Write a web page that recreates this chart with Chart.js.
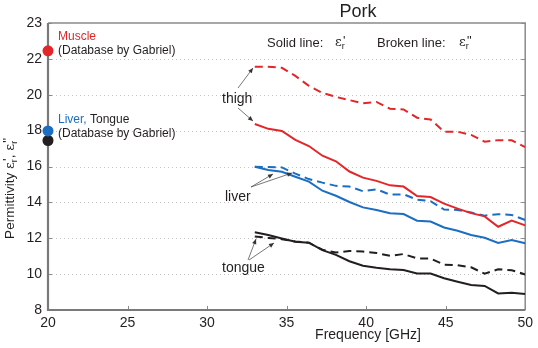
<!DOCTYPE html>
<html><head><meta charset="utf-8">
<script src="https://cdn.jsdelivr.net/npm/chart.js@4"></script>
<style>html,body{margin:0;padding:0;background:#fff}</style>
</head><body>
<canvas id="c" width="538" height="348" style="width:538px;height:348px;display:block"></canvas>
<script>
// ---- data ----
const freq = [33, 33.85, 34.7, 35.55, 36.4, 37.25, 38.1, 38.95, 39.8, 40.65, 41.5, 42.35, 43.2, 44.05, 44.9, 45.75, 46.6, 47.45, 48.3, 49.15, 50];
const thighReal  = [18.37, 18.1, 17.98, 17.48, 17.14, 16.6, 16.29, 15.72, 15.38, 15.2, 14.95, 14.88, 14.35, 14.3, 13.93, 13.65, 13.4, 13.22, 12.64, 12.98, 12.72];
const thighImag  = [21.56, 21.56, 21.5, 21.05, 20.5, 20.1, 19.88, 19.7, 19.52, 19.6, 19.22, 19.18, 18.72, 18.62, 17.94, 17.94, 17.76, 17.38, 17.47, 17.46, 17.08];
const liverReal  = [15.99, 15.8, 15.71, 15.43, 15.16, 14.65, 14.37, 14.02, 13.72, 13.57, 13.39, 13.35, 12.98, 12.93, 12.6, 12.42, 12.18, 12.03, 11.74, 11.9, 11.72];
const liverImag  = [15.99, 15.97, 15.95, 15.6, 15.3, 15.1, 14.92, 14.88, 14.62, 14.73, 14.43, 14.45, 14.15, 14.07, 13.6, 13.58, 13.43, 13.26, 13.34, 13.3, 13.02];
const tongueReal = [12.33, 12.18, 11.99, 11.81, 11.75, 11.34, 11.07, 10.72, 10.47, 10.36, 10.27, 10.23, 10.04, 10.03, 9.77, 9.58, 9.39, 9.34, 8.92, 8.96, 8.89];
const tongueImag = [12.1, 12.02, 11.95, 11.82, 11.75, 11.36, 11.2, 11.29, 11.26, 11.18, 11.02, 11.12, 10.88, 10.87, 10.52, 10.5, 10.38, 10.02, 10.27, 10.22, 9.98];
const dbFreq   = [20];
const muscleDb = [22.45];
const liverDb  = [17.98];
const tongueDb = [17.45];
const xTicks = [20, 25, 30, 35, 40, 45, 50];
const yTicks = [8, 10, 12, 14, 16, 18, 20, 22, 24];
const yTickLabels = ['8', '10', '12', '14', '16', '18', '20', '22', '23'];

const FONT = '"Liberation Sans", Arial, Helvetica, sans-serif';
const RED = '#e2262a', BLUE = '#1b6ec2', BLACK = '#231f20', TXT = '#231f20';

const pts = (xs, ys) => xs.map((x, i) => ({x: x, y: ys[i]}));
function line(ys, color, dashed) {
  return {data: pts(freq, ys), borderColor: color, borderWidth: 2, borderDash: dashed ? [8, 5] : [],
          pointRadius: 0, tension: 0, fill: false};
}
function dot(ys, color) {
  return {data: pts(dbFreq, ys), showLine: false, pointRadius: 5.5, pointBackgroundColor: color,
          pointBorderColor: color, pointBorderWidth: 0, clip: false};
}

function eps(ctx, x, y, size, primes) {
  ctx.textBaseline = 'middle'; ctx.textAlign = 'left';
  ctx.font = size + 'px "DejaVu Serif", serif';
  ctx.fillText('ε', x, y);
  let w = ctx.measureText('ε').width;
  ctx.font = Math.round(size * 0.7) + 'px ' + FONT;
  ctx.fillText('r', x + w, y + size * 0.3);
  let w2 = ctx.measureText('r').width;
  ctx.font = size + 'px ' + FONT;
  ctx.fillText(primes, x + w + w2 * 0.4, y - size * 0.15);
  return w + w2 * 0.4 + ctx.measureText(primes).width;
}

function arrow(ctx, x1, y1, x2, y2) {
  ctx.beginPath(); ctx.moveTo(x1, y1); ctx.lineTo(x2, y2); ctx.stroke();
  const a = Math.atan2(y2 - y1, x2 - x1), L = 5, H = 2.2;
  ctx.beginPath();
  ctx.moveTo(x2, y2);
  ctx.lineTo(x2 - L * Math.cos(a) + H * Math.sin(a), y2 - L * Math.sin(a) - H * Math.cos(a));
  ctx.lineTo(x2 - L * Math.cos(a) - H * Math.sin(a), y2 - L * Math.sin(a) + H * Math.cos(a));
  ctx.closePath(); ctx.fill();
}

const framePlugin = {
  id: 'frame',
  beforeDatasetsDraw(chart) {
    const ctx = chart.ctx, ca = chart.chartArea, ys = chart.scales.y, xs = chart.scales.x;
    ctx.save();
    ctx.strokeStyle = '#c4c4c4'; ctx.lineWidth = 1; ctx.setLineDash([1, 3]);
    yTicks.forEach(v => {
      if (v <= 8 || v >= 24) return;
      const p = Math.round(ys.getPixelForValue(v)) + 0.5;
      ctx.beginPath(); ctx.moveTo(ca.left, p); ctx.lineTo(ca.right, p); ctx.stroke();
    });
    ctx.setLineDash([]);
    ctx.strokeStyle = '#8a8a8a'; ctx.lineWidth = 1;
    yTicks.forEach(v => {
      const p = Math.round(ys.getPixelForValue(v)) + 0.5;
      ctx.beginPath(); ctx.moveTo(ca.left, p); ctx.lineTo(ca.left + 4, p); ctx.stroke();
      ctx.beginPath(); ctx.moveTo(ca.right, p); ctx.lineTo(ca.right - 4, p); ctx.stroke();
    });
    xTicks.forEach(v => {
      const p = Math.round(xs.getPixelForValue(v)) + 0.5;
      ctx.beginPath(); ctx.moveTo(p, ca.bottom); ctx.lineTo(p, ca.bottom - 4); ctx.stroke();
    });
    ctx.strokeStyle = '#8a8a8a'; ctx.lineWidth = 1.5;
    ctx.beginPath(); ctx.moveTo(ca.left, ca.top); ctx.lineTo(ca.right, ca.top); ctx.lineTo(ca.right, ca.bottom); ctx.stroke();
    ctx.strokeStyle = '#7a7a7a'; ctx.lineWidth = 2.2;
    ctx.beginPath(); ctx.moveTo(ca.left, ca.top); ctx.lineTo(ca.left, ca.bottom); ctx.lineTo(ca.right, ca.bottom); ctx.stroke();
    ctx.restore();
  },
  afterDraw(chart) {
    const ctx = chart.ctx;
    ctx.save();
    ctx.fillStyle = TXT; ctx.textBaseline = 'middle'; ctx.textAlign = 'center';
    ctx.font = '18px ' + FONT;
    ctx.fillText('Pork', 358, 12);
    ctx.font = '14px ' + FONT;
    ctx.fillText('Frequency [GHz]', 368, 335);
    ctx.textAlign = 'left';
    // database legend
    ctx.font = '12px ' + FONT;
    ctx.fillStyle = RED; ctx.fillText('Muscle', 58, 37);
    ctx.fillStyle = TXT; ctx.fillText('(Database by Gabriel)', 58, 51);
    ctx.fillStyle = BLUE; ctx.fillText('Liver,', 58, 120);
    let w = ctx.measureText('Liver,').width;
    ctx.fillStyle = TXT; ctx.fillText(' Tongue', 58 + w, 120);
    ctx.fillText('(Database by Gabriel)', 58, 134);
    // line style notes
    ctx.font = '13px ' + FONT;
    ctx.fillText('Solid line:', 267, 43);
    eps(ctx, 335, 43, 13, "'");
    ctx.font = '13px ' + FONT;
    ctx.fillText('Broken line:', 377, 43);
    eps(ctx, 459, 43, 13, '"');
    // annotations
    ctx.font = '14px ' + FONT; ctx.fillStyle = TXT;
    ctx.fillText('thigh', 222, 99);
    ctx.fillText('liver', 225, 197);
    ctx.fillText('tongue', 222, 268);
    ctx.strokeStyle = '#555'; ctx.fillStyle = '#333'; ctx.lineWidth = 0.8;
    arrow(ctx, 238, 88, 253, 68);
    arrow(ctx, 238, 108, 253, 121);
    arrow(ctx, 251, 187, 273, 174);
    arrow(ctx, 251, 187, 292, 173);
    arrow(ctx, 248, 260, 256, 239);
    arrow(ctx, 249, 260, 274, 243);
    // y axis title (rotated)
    ctx.save();
    ctx.translate(10, 178); ctx.rotate(-Math.PI / 2);
    ctx.fillStyle = TXT; ctx.font = '13.5px ' + FONT;
    const t1 = 'Permittivity ';
    const total = ctx.measureText(t1).width + 52;
    let x = -total / 2;
    ctx.fillText(t1, x, 0); x += ctx.measureText(t1).width;
    x += eps(ctx, x, 0, 13.5, "'");
    ctx.font = '13.5px ' + FONT; ctx.fillText(', ', x, 0); x += ctx.measureText(', ').width;
    eps(ctx, x, 0, 13.5, '"');
    ctx.restore();
    ctx.restore();
  }
};

new Chart(document.getElementById('c'), {
  type: 'line',
  data: {datasets: [
    line(thighImag, RED, true), line(thighReal, RED, false),
    line(liverImag, BLUE, true), line(liverReal, BLUE, false),
    line(tongueImag, BLACK, true), line(tongueReal, BLACK, false),
    dot(muscleDb, RED), dot(liverDb, BLUE), dot(tongueDb, BLACK)
  ]},
  options: {
    responsive: false, animation: false, devicePixelRatio: 1,
    layout: {padding: {top: 23, right: 10, left: 0, bottom: 0}},
    plugins: {legend: {display: false}, tooltip: {enabled: false}},
    scales: {
      x: {type: 'linear', min: 20, max: 50,
          afterBuildTicks: s => { s.ticks = xTicks.map(v => ({value: v})); },
          afterFit: s => { s.height = 38; },
          grid: {display: false, drawTicks: false}, border: {display: false},
          ticks: {color: TXT, font: {family: FONT, size: 14}, padding: 5, maxRotation: 0}},
      y: {type: 'linear', min: 8, max: 24,
          afterBuildTicks: s => { s.ticks = yTicks.map(v => ({value: v})); },
          afterFit: s => { s.width = 48; },
          grid: {display: false, drawTicks: false}, border: {display: false},
          ticks: {color: TXT, font: {family: FONT, size: 14}, padding: 6,
                  callback: v => yTickLabels[yTicks.indexOf(v)]}}
    }
  },
  plugins: [framePlugin]
});
</script>
</body></html>
